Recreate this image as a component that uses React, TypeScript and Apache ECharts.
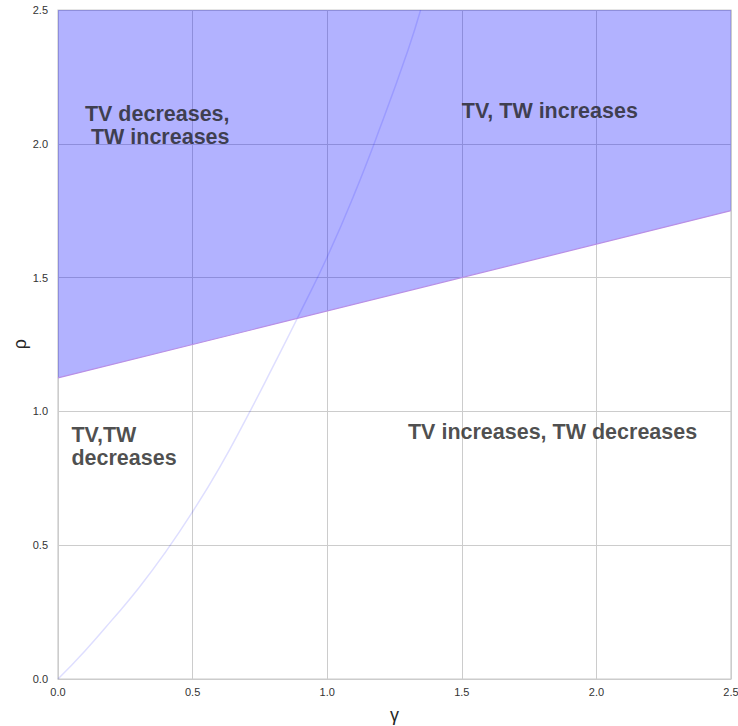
import React, { useEffect, useRef } from "react";
import * as echarts from "echarts";

// Boundary line rho = f(gamma) (region above is shaded)
const boundaryGamma = [0, 2.5];
const boundaryRho = [1.125, 1.75];

// Curved line
const curveGamma = [0, 0.1, 0.2, 0.3, 0.4, 0.5, 0.6, 0.7, 0.8, 0.9, 1.0, 1.1, 1.2, 1.3, 1.347];
const curveRho = [0, 0.105, 0.22, 0.34, 0.475, 0.625, 0.79, 0.975, 1.17, 1.37, 1.577, 1.81, 2.07, 2.35, 2.5];

// Annotations: text, gamma, rho (baseline of last line, left aligned)
const annotationTexts = ["TV decreases,\n TW increases", "TV, TW increases", "TV increases, TW decreases", "TV,TW\ndecreases"];
const annotationGamma = [0.1, 1.5, 1.3, 0.05];
const annotationRho = [2.0, 2.1, 0.9, 0.8];

const yAxisTitle = "ρ";
const xAxisTitle = "γ";

export default function App() {
  const ref = useRef<HTMLDivElement>(null);
  useEffect(() => {
    if (!ref.current) return;
    const chart = echarts.init(ref.current, undefined, { renderer: "svg" });
    const fontFamily = "Liberation Sans, Arial, sans-serif";
    const option: any = {
      animation: false,
      backgroundColor: "#ffffff",
      grid: {
        left: 58, right: 7, top: 10, bottom: 47,
        outerBoundsMode: "none",
        containLabel: false,
        show: true, borderColor: "#cccccc", borderWidth: 1.25, backgroundColor: "transparent",
      },
      graphic: [
        {
          type: "text",
          x: 20,
          y: 344,
          rotation: Math.PI / 2,
          style: { text: yAxisTitle, fontSize: 18, fill: "#262626", fontFamily, align: "center", verticalAlign: "middle" },
        },
      ],
      xAxis: {
        type: "value",
        min: 0,
        max: 2.5,
        interval: 0.5,
        name: xAxisTitle,
        nameLocation: "middle",
        nameGap: 27,
        nameTextStyle: { fontSize: 18, color: "#262626", fontFamily },
        axisLine: { show: false },
        axisTick: { show: false },
        axisLabel: { formatter: (v: number) => v.toFixed(1), fontSize: 11, color: "#333333", margin: 7, fontFamily },
        splitLine: { show: true, lineStyle: { color: "#cccccc", width: 1 } },
      },
      yAxis: {
        type: "value",
        min: 0,
        max: 2.5,
        interval: 0.5,
        axisLine: { show: false },
        axisTick: { show: false },
        axisLabel: { formatter: (v: number) => v.toFixed(1), fontSize: 11, color: "#333333", margin: 10, fontFamily },
        splitLine: { show: true, lineStyle: { color: "#cccccc", width: 1 } },
      },
      series: [
        {
          type: "line",
          data: curveGamma.map((g, i) => [g, curveRho[i]]),
          smooth: true,
          showSymbol: false,
          lineStyle: { color: "rgba(0,0,255,0.13)", width: 1.5 },
          z: 2,
        },
        {
          type: "line",
          data: boundaryGamma.map((g, i) => [g, boundaryRho[i]]),
          showSymbol: false,
          lineStyle: { color: "#b88fe6", width: 1.2 },
          areaStyle: { origin: "end", color: "rgba(0,0,255,0.3)", opacity: 1 },
          z: 3,
        },
        {
          type: "scatter",
          data: annotationGamma.map((g, i) => ({ value: [g, annotationRho[i]], name: annotationTexts[i] })),
          symbolSize: 0,
          silent: true,
          z: 5,
          label: {
            show: true,
            position: "inside",
            formatter: (p: any) => p.name,
            align: "left",
            verticalAlign: "bottom",
            offset: [0, 5],
            fontSize: 21.5,
            lineHeight: 23,
            fontWeight: "bold",
            color: "#1f1f1f",
            textBorderWidth: 0,
            fontFamily,
          },
        },
      ],
    };
    chart.setOption(option);
    return () => chart.dispose();
  }, []);
  return <div ref={ref} style={{ position: "fixed", left: 0, top: 0, width: 738, height: 726 }} />;
}
